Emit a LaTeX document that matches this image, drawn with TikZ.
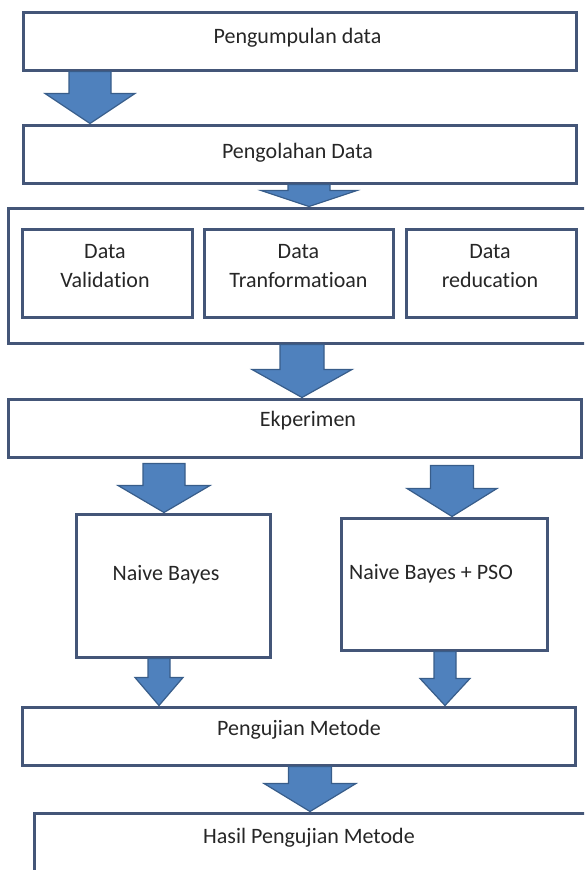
\documentclass[tikz,border=0pt]{standalone}
\usepackage{fontspec}
\setmainfont{Carlito}[RawFeature={-liga;-clig;-calt;-dlig}]
\usetikzlibrary{calc}
\definecolor{boxline}{RGB}{68,86,120}
\definecolor{arrowfill}{RGB}{79,129,189}
\definecolor{arrowline}{RGB}{56,93,138}
\begin{document}
\begin{tikzpicture}[x=1pt, y=-1pt,
    box/.style = {draw=boxline, line width=3pt, rectangle, inner sep=0pt},
    txt/.style = {font=\fontsize{22}{29}\selectfont, align=center, text=black!85},
    fat/.style args = {#1/#2/#3}{fill=arrowfill, draw=arrowline, line width=1.2pt,
        to path={let \p1=(\tikztostart), \p2=(\tikztotarget) in
            (\x1-#1,\y1) -- (\x1-#1,\y2+#3) -- (\x1-#2,\y2+#3) -- (\x1,\y2)
            -- (\x1+#2,\y2+#3) -- (\x1+#1,\y2+#3) -- (\x1+#1,\y1) -- cycle}}]
    \useasboundingbox (0,0) rectangle (584,870);
    \clip (0,0) rectangle (584,870);
    \node[box, minimum width=553pt, minimum height=58pt, label={[txt, shift={(-2pt,3pt)}]center:Pengumpulan data}] (collect) at (299.5,41) {};
    \node[box, minimum width=553pt, minimum height=58pt, label={[txt, shift={(-2pt,1pt)}]center:Pengolahan Data}] (process) at (299.5,154) {};
    \node[box, minimum width=582pt, minimum height=135pt] (prep) at (299,275.5) {};
    \node[box, minimum width=170pt, minimum height=88pt, label={[txt, shift={(-2pt,6.5pt)}]center:Data\\Validation}] (valid) at (107,273) {};
    \node[box, minimum width=189pt, minimum height=88pt, label={[txt, shift={(0pt,6.5pt)}]center:Data\\Tranformatioan}] (trans) at (298.5,273) {};
    \node[box, minimum width=170pt, minimum height=88pt, label={[txt, shift={(-1pt,6.5pt)}]center:Data\\reducation}] (reduce) at (491,273) {};
    \node[box, minimum width=573pt, minimum height=58pt, label={[txt, shift={(13.5pt,7pt)}]center:Ekperimen}] (exp) at (294.5,428) {};
    \node[box, minimum width=194pt, minimum height=143pt, label={[txt, shift={(-7pt,11pt)}]center:Naive Bayes}] (nb) at (173,585.5) {};
    \node[box, minimum width=206pt, minimum height=132pt, label={[txt, shift={(-13pt,10pt)}]center:Naive Bayes + PSO}] (nbpso) at (444,584) {};
    \node[box, minimum width=553pt, minimum height=58pt, label={[txt, shift={(0.5pt,6pt)}]center:Pengujian Metode}] (test) at (298.5,736) {};
    \node[box, minimum width=566pt, minimum height=67pt, label={[txt, shift={(-8pt,8.5pt)}]center:Hasil Pengujian Metode}] (result) at (317,846.5) {};
    \draw[fat=21pt/45pt/30pt] (90,0 |- collect.south) to (90,0 |- process.north);
    \draw[fat=21pt/48pt/16pt] (309,0 |- process.south) to (309,0 |- prep.north);
    \draw[fat=22pt/50pt/28pt] (302,0 |- prep.south) to (302,0 |- exp.north);
    \draw[fat=21pt/46pt/27pt] ($(164,0 |- exp.south)+(0,5)$) to (164,0 |- nb.north);
    \draw[fat=21.5pt/45pt/28pt] ($(452,0 |- exp.south)+(0,7)$) to (452,0 |- nbpso.north);
    \draw[fat=11pt/24pt/28pt] (159,0 |- nb.south) to (159,0 |- test.north);
    \draw[fat=11pt/25pt/27pt] (445,0 |- nbpso.south) to (445,0 |- test.north);
    \draw[fat=21.5pt/46pt/28pt] (310,0 |- test.south) to (310,0 |- result.north);
\end{tikzpicture}
\end{document}
